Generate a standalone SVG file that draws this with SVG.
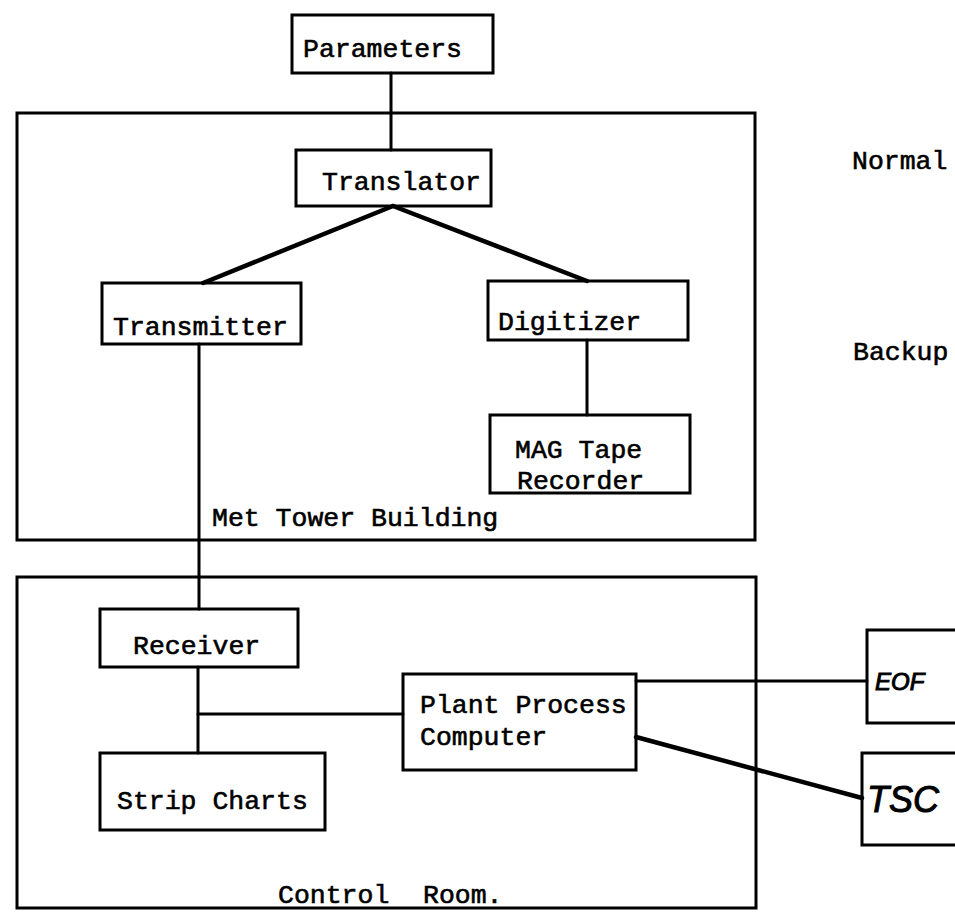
<svg xmlns="http://www.w3.org/2000/svg" width="955" height="912" viewBox="0 0 955 912">
<style>
.box{fill:none;stroke:#000;stroke-width:3}
.area{fill:none;stroke:#000;stroke-width:3}
.ln{fill:none;stroke:#000;stroke-width:3;stroke-linecap:round}
.thick{stroke-width:4.5}
.t{font-family:"Liberation Mono","Courier New",monospace;font-size:26.5px;fill:#000;stroke:#000;stroke-width:0.6}
.h{font-family:"Liberation Sans",Arial,sans-serif;font-style:italic;fill:#000;stroke:#000;stroke-width:1}
</style>
<rect width="955" height="912" fill="#fff"/>
<g id="met-tower-building">
<rect class="area" x="17" y="113" width="738" height="427"/>
<text class="t" x="212" y="526">Met Tower Building</text>
</g>
<g id="control-room">
<rect class="area" x="17" y="577" width="739" height="331"/>
<text class="t" x="278" y="903">Control</text>
<text class="t" x="423" y="903">Room.</text>
</g>
<g id="connectors">
<line class="ln" x1="391" y1="73" x2="391" y2="150"/>
<line class="ln thick" x1="393" y1="206" x2="203" y2="283"/>
<line class="ln thick" x1="393" y1="206" x2="587" y2="281"/>
<line class="ln" x1="587" y1="340" x2="587" y2="415"/>
<line class="ln" x1="199" y1="344" x2="199" y2="609"/>
<line class="ln" x1="198" y1="667" x2="198" y2="753"/>
<line class="ln" x1="198" y1="714" x2="403" y2="714"/>
<line class="ln" x1="636" y1="681" x2="867" y2="681"/>
<line class="ln thick" x1="636" y1="737" x2="862" y2="798"/>
</g>
<g id="parameters">
<rect class="box" x="292" y="15" width="201" height="58"/>
<text class="t" x="303" y="57">Parameters</text>
</g>
<g id="translator">
<rect class="box" x="296" y="150" width="195" height="56"/>
<text class="t" x="322" y="190">Translator</text>
</g>
<g id="transmitter">
<rect class="box" x="102" y="283" width="199" height="61"/>
<text class="t" x="113" y="335">Transmitter</text>
</g>
<g id="digitizer">
<rect class="box" x="488" y="281" width="200" height="59"/>
<text class="t" x="498" y="330">Digitizer</text>
</g>
<g id="mag-tape-recorder">
<rect class="box" x="490" y="415" width="200" height="78"/>
<text class="t" x="515" y="458">MAG Tape</text>
<text class="t" x="517" y="489">Recorder</text>
</g>
<g id="receiver">
<rect class="box" x="100" y="609" width="198" height="58"/>
<text class="t" x="133" y="654">Receiver</text>
</g>
<g id="strip-charts">
<rect class="box" x="100" y="753" width="225" height="77"/>
<text class="t" x="117" y="809">Strip Charts</text>
</g>
<g id="plant-process-computer">
<rect class="box" x="403" y="674" width="233" height="96"/>
<text class="t" x="420" y="713">Plant Process</text>
<text class="t" x="420" y="745">Computer</text>
</g>
<g id="eof">
<rect class="box" x="867" y="630" width="120" height="93"/>
<text class="h" x="875" y="690" font-size="24">EOF</text>
</g>
<g id="tsc">
<rect class="box" x="862" y="753" width="120" height="92"/>
<text class="h" x="867" y="812" font-size="36">TSC</text>
</g>
<g id="labels">
<text class="t" x="852" y="169">Normal</text>
<text class="t" x="853" y="360">Backup</text>
</g>
</svg>
